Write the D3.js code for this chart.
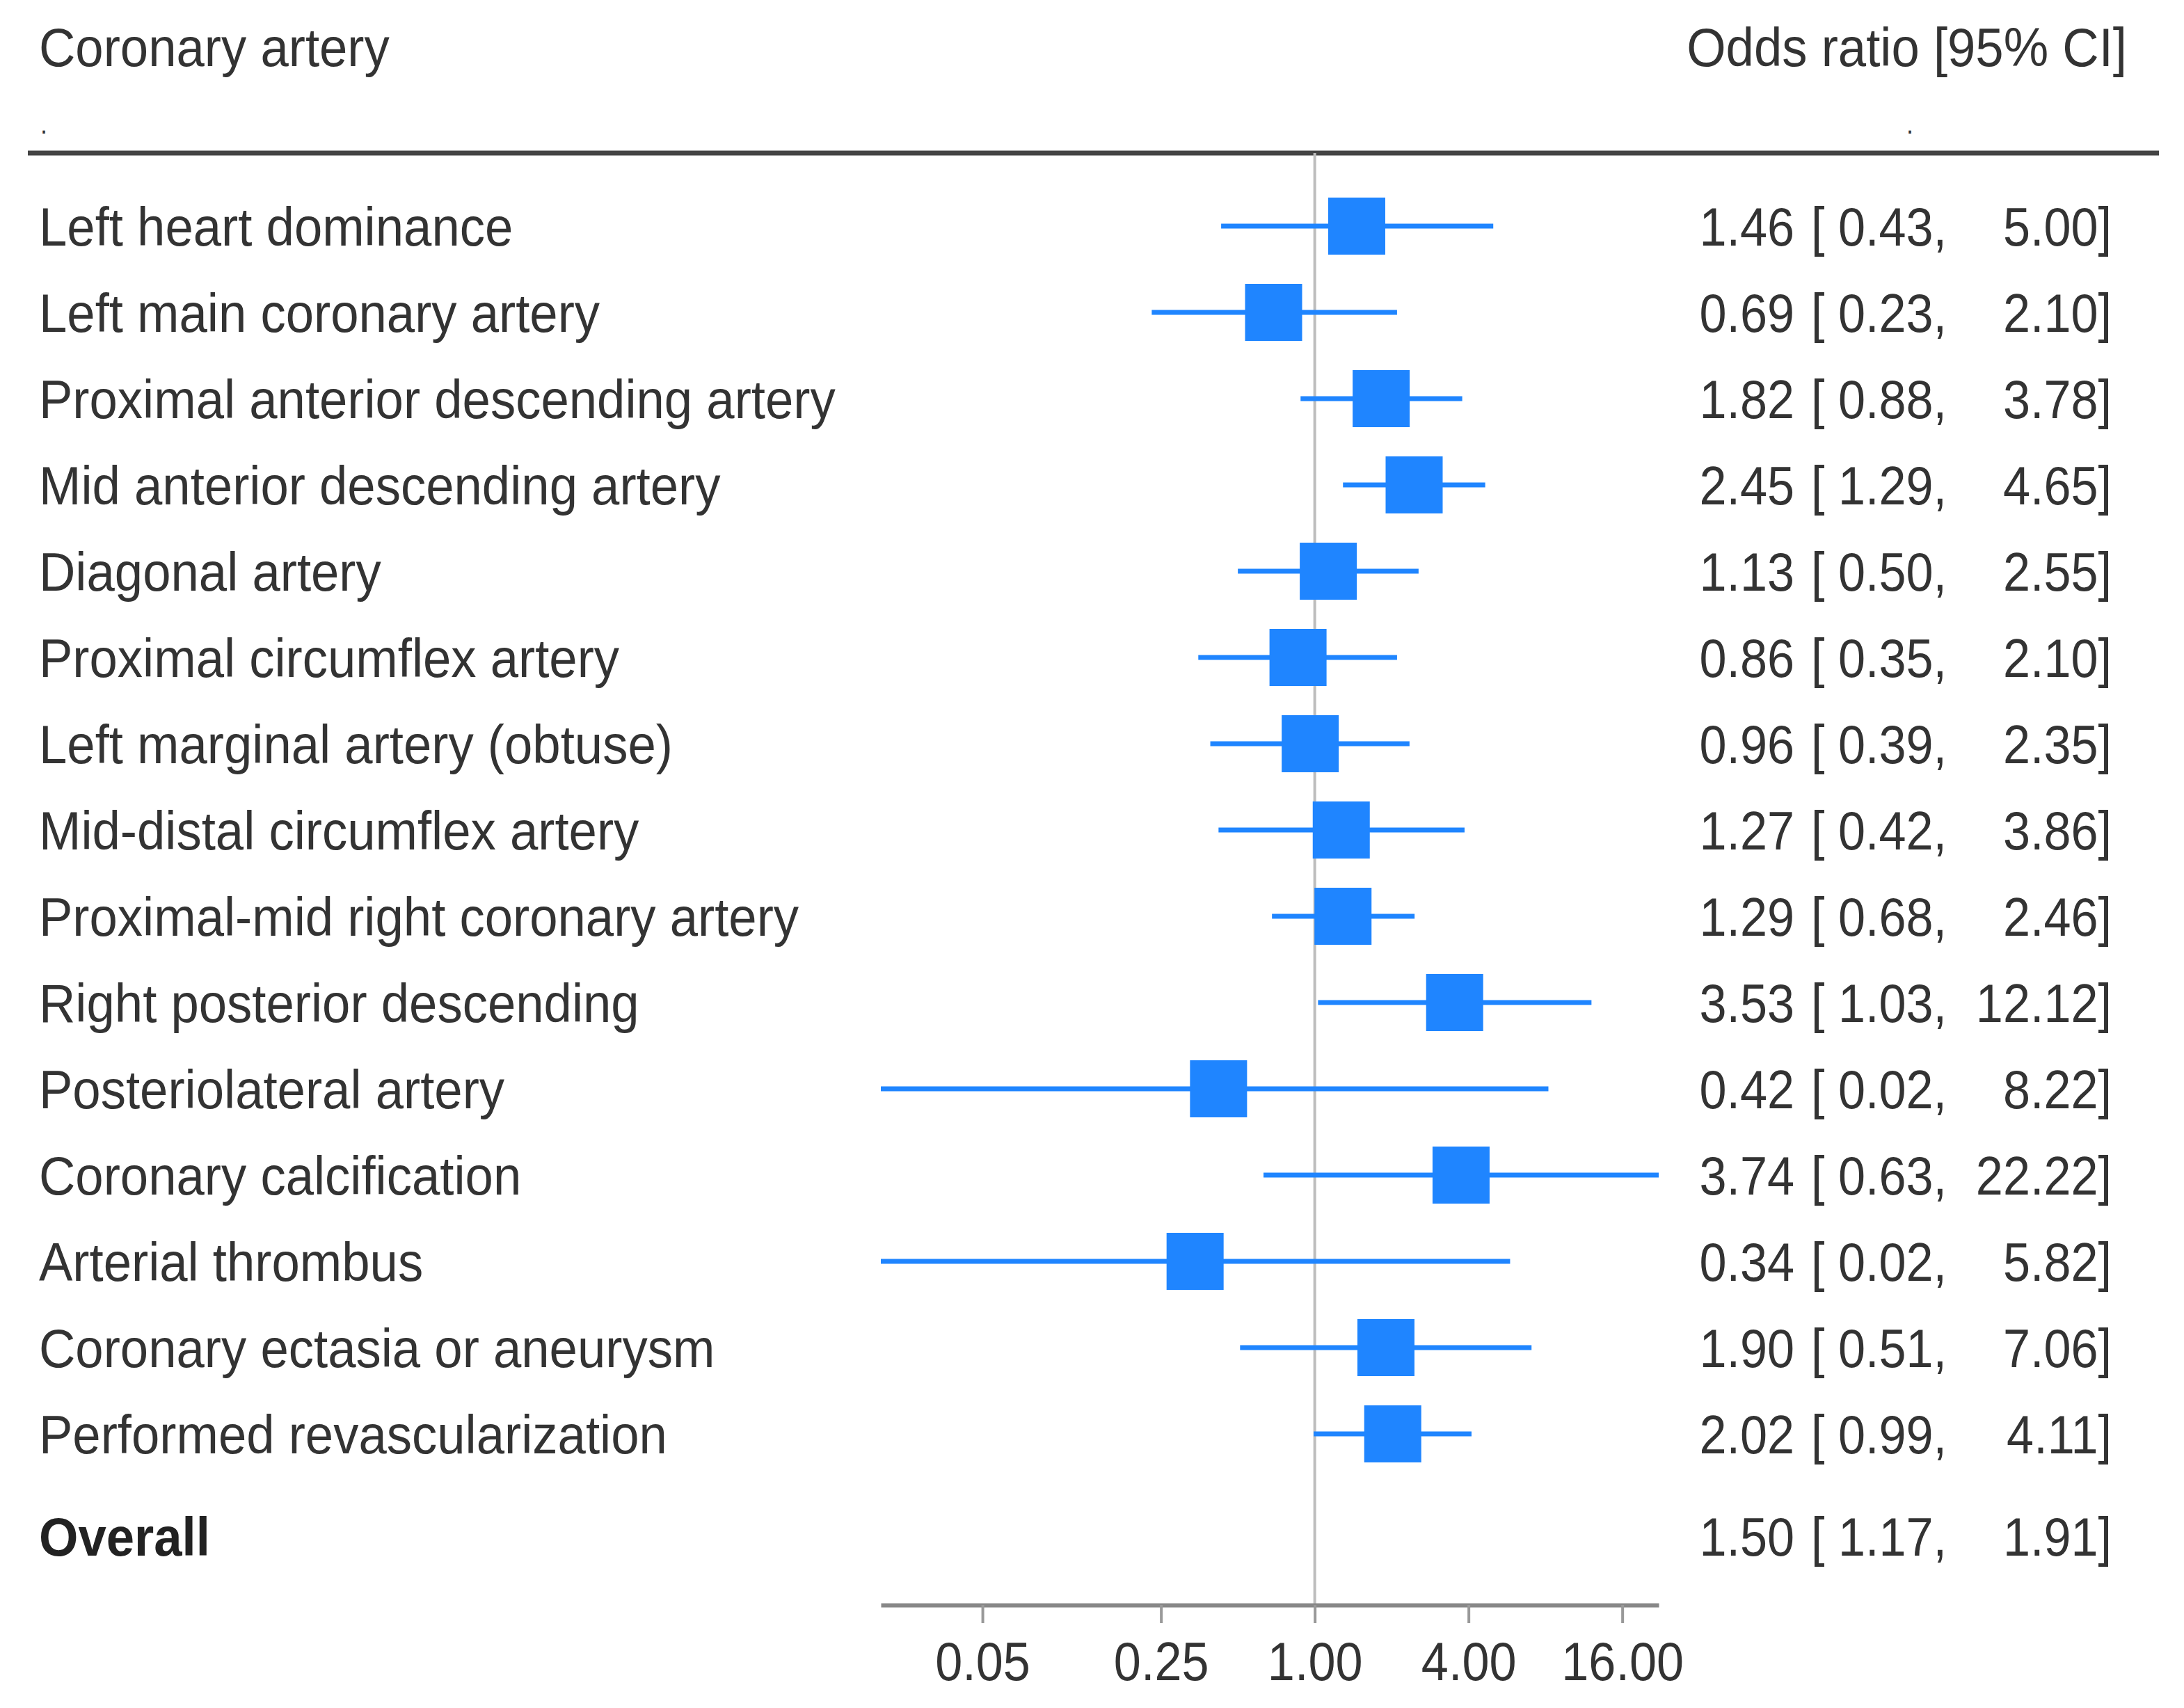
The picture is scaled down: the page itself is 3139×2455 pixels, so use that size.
<!DOCTYPE html>
<html>
<head>
<meta charset="utf-8">
<script src="https://cdn.jsdelivr.net/npm/d3@7"></script>
<style>
  html, body { margin: 0; padding: 0; background: #fff; }
  svg { display: block; }
</style>
</head>
<body>
<script>
// ---------- DATA ----------
const categories = [
  "Left heart dominance",
  "Left main coronary artery",
  "Proximal anterior descending artery",
  "Mid anterior descending artery",
  "Diagonal artery",
  "Proximal circumflex artery",
  "Left marginal artery (obtuse)",
  "Mid-distal circumflex artery",
  "Proximal-mid right coronary artery",
  "Right posterior descending",
  "Posteriolateral artery",
  "Coronary calcification",
  "Arterial thrombus",
  "Coronary ectasia or aneurysm",
  "Performed revascularization"
];
const oddsRatio = [1.46, 0.69, 1.82, 2.45, 1.13, 0.86, 0.96, 1.27, 1.29, 3.53, 0.42, 3.74, 0.34, 1.90, 2.02];
const ciLower   = [0.43, 0.23, 0.88, 1.29, 0.50, 0.35, 0.39, 0.42, 0.68, 1.03, 0.02, 0.63, 0.02, 0.51, 0.99];
const ciUpper   = [5.00, 2.10, 3.78, 4.65, 2.55, 2.10, 2.35, 3.86, 2.46, 12.12, 8.22, 22.22, 5.82, 7.06, 4.11];
const overallLabel = "Overall";
const overall = { or: 1.50, lo: 1.17, hi: 1.91 };
const tickValues = [0.05, 0.25, 1.00, 4.00, 16.00];
const headerLeft = "Coronary artery";
const headerRight = "Odds ratio [95% CI]";

// ---------- LAYOUT ----------
const W = 3139, H = 2455;
const FS = 78, SX = 0.9, SXL = 0.93;
const textColor = "#333";
const blue = "#1f85ff";

const svg = d3.select("body").append("svg").attr("width", W).attr("height", H);

const x = d3.scaleLog().base(2)
  .domain([d3.min(ciLower), d3.max(ciUpper)])
  .range([1266, 2384]);

const y = d3.scaleLinear().domain([0, 1]).range([325, 449]);
const overallY = 2208;
const axisY = 2307;

function txt(xp, yc, str, anchor, opts = {}) {
  const sx = opts.sx || SX;
  return svg.append("text")
    .attr("transform", `translate(${xp},${yc}) scale(${sx},1)`)
    .attr("text-anchor", anchor)
    .attr("font-family", "'Liberation Sans', Arial, Helvetica, sans-serif")
    .attr("font-size", opts.size || FS)
    .attr("font-weight", opts.weight || "normal")
    .attr("fill", opts.fill || textColor)
    .text(str);
}

// headers
txt(56, 95, headerLeft, "start", { sx: SXL });
txt(3057, 95, headerRight, "end", { sx: SXL });
txt(58, 192, ".", "start", { size: 40 });
txt(2740, 192, ".", "start", { size: 40 });

// top rule
svg.append("line")
  .attr("x1", 40).attr("x2", 3103).attr("y1", 220).attr("y2", 220)
  .attr("stroke", "#444").attr("stroke-width", 7);

// reference line at OR = 1
svg.append("line")
  .attr("x1", x(1)).attr("x2", x(1)).attr("y1", 220).attr("y2", axisY)
  .attr("stroke", "#bdbdbd").attr("stroke-width", 4);

const rows = categories.map((c, i) => ({ c, i, or: oddsRatio[i], lo: ciLower[i], hi: ciUpper[i] }));

// CI lines
svg.append("g").selectAll("line").data(rows).join("line")
  .attr("x1", d => x(d.lo)).attr("x2", d => x(d.hi))
  .attr("y1", d => y(d.i)).attr("y2", d => y(d.i))
  .attr("stroke", blue).attr("stroke-width", 7);

// squares
const SQ = 82;
svg.append("g").selectAll("rect").data(rows).join("rect")
  .attr("x", d => x(d.or) - SQ / 2).attr("y", d => y(d.i) - SQ / 2)
  .attr("width", SQ).attr("height", SQ)
  .attr("fill", blue);

// labels and values
const f2 = d3.format(".2f");
const base = 0.36 * FS;
rows.forEach(d => {
  const yc = y(d.i) + base;
  txt(56, yc, d.c, "start", { sx: SXL });
  txt(2579, yc, f2(d.or), "end");
  txt(2603, yc, "[ " + f2(d.lo) + ",", "start");
  txt(3035, yc, f2(d.hi) + "]", "end");
});

// overall
txt(56, overallY + base, overallLabel, "start", { weight: "bold", fill: "#222", sx: SXL });
txt(2579, overallY + base, f2(overall.or), "end");
txt(2603, overallY + base, "[ " + f2(overall.lo) + ",", "start");
txt(3035, overallY + base, f2(overall.hi) + "]", "end");

// axis
const axis = d3.axisBottom(x)
  .tickValues(tickValues)
  .tickFormat(f2)
  .tickSize(26)
  .tickSizeOuter(0)
  .tickPadding(27);

const gAxis = svg.append("g").attr("transform", `translate(0,${axisY})`).call(axis);
gAxis.select(".domain").attr("stroke", "#888").attr("stroke-width", 6);
gAxis.selectAll(".tick line").attr("stroke", "#999").attr("stroke-width", 4);
gAxis.selectAll(".tick text")
  .attr("font-family", "'Liberation Sans', Arial, Helvetica, sans-serif")
  .attr("font-size", FS)
  .attr("fill", textColor)
  .attr("transform", `scale(${SX},1)`);
</script>
</body>
</html>
